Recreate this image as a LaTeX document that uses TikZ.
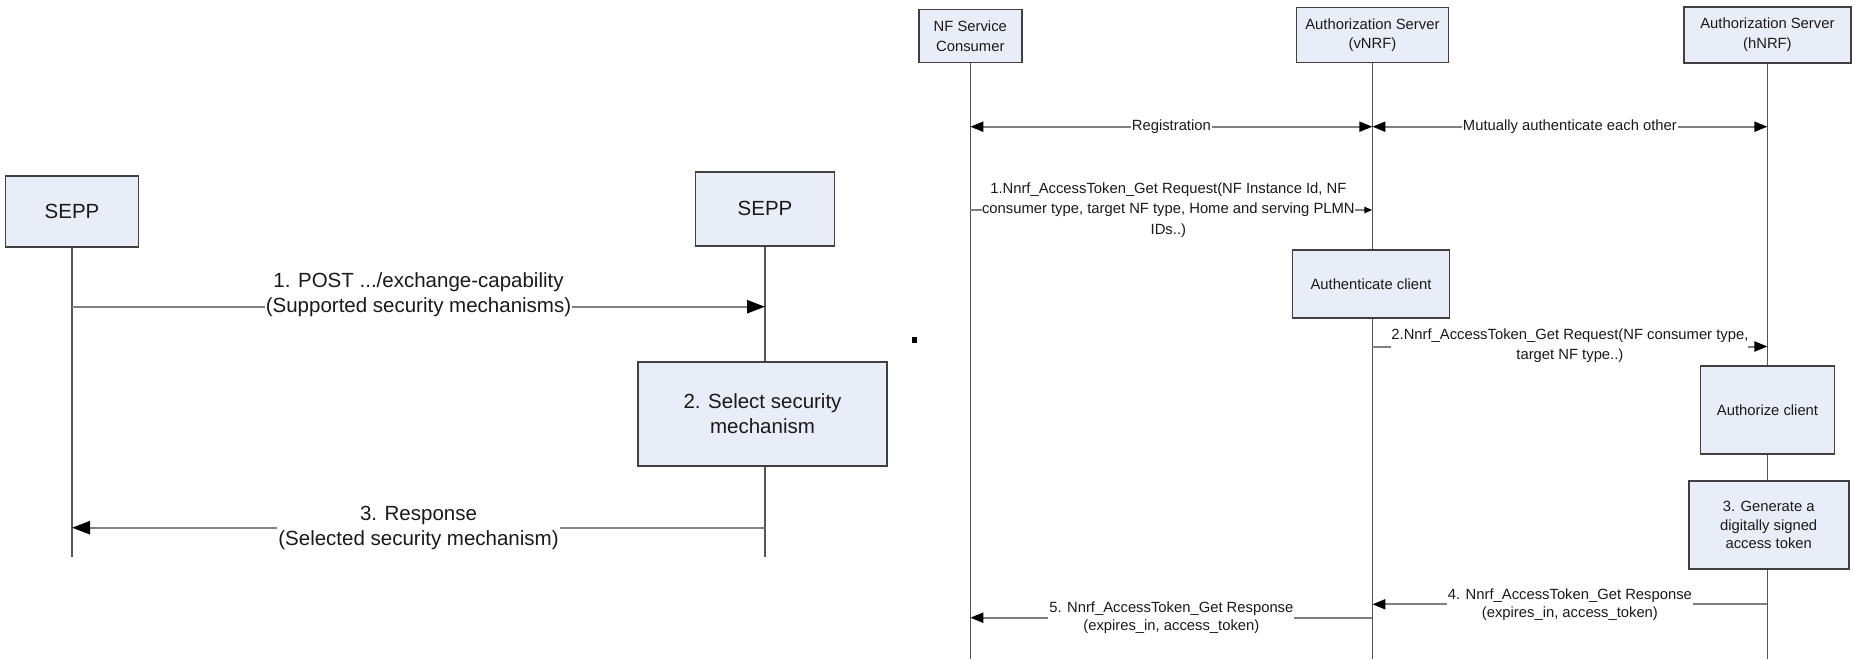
\documentclass[tikz,border=0pt]{standalone}
\usepackage{fontspec}
\setmainfont{Liberation Sans}
\usetikzlibrary{arrows.meta}
\definecolor{boxfill}{HTML}{E8EDF7}
\definecolor{boxline}{HTML}{404040}
\definecolor{msgline}{HTML}{808080}
\definecolor{lifecol}{HTML}{555555}
\definecolor{txt}{HTML}{1A1A1A}
\begin{document}
\begin{tikzpicture}[x=1pt,y=-1pt,
  big/.style={font=\fontsize{20.5}{25}\selectfont},
  small/.style={font=\fontsize{14.8}{19.5}\selectfont},
  actor/.style={draw=boxline, fill=boxfill, line width=1.8pt, inner sep=0pt,
    align=center, text=txt},
  life/.style={draw=lifecol, line width=1.4pt},
  bigtip/.tip={Triangle[length=18pt,width=13pt,color=black]},
  smalltip/.tip={Triangle[length=13pt,width=10pt,color=black]},
  tinytip/.tip={Triangle[length=8pt,width=6pt,color=black]},
  msgbig/.style={draw=msgline, line width=2.4pt},
  msgsmall/.style={draw=msgline, line width=2pt},
  lab/.style={fill=white, inner sep=1pt, align=center, text=txt}]

% canvas
\path[use as bounding box, fill=white] (0,0) rectangle (1855,659);

% ---------- SEPP capability exchange ----------
\node[actor, big, minimum width=133pt, minimum height=71pt] (sA) at (72,211.5) {SEPP};
\node[actor, big, minimum width=139pt, minimum height=74pt] (sB) at (765,208.7) {SEPP};
\coordinate (endL) at (0,557);
\draw[life] (sA.south) -- (sA |- endL);
\draw[life] (sB.south) -- (sB |- endL);

\node[actor, big, minimum width=249pt, minimum height=104pt] (sel) at (762.5,414)
  {2. Select security\\mechanism};

\coordinate (yA1) at (0,306.7);
\coordinate (yA3) at (0,527.7);
\draw[msgbig, -bigtip] (sA |- yA1) -- node[lab, big, yshift=12.5pt]
  {1. POST .../exchange-capability\\(Supported security mechanisms)} (sB |- yA1);
\draw[msgbig, -bigtip] (sB |- yA3) -- node[lab, big]
  {3. Response\\(Selected security mechanism)} (sA |- yA3);

% stray mark
\fill[black] (912,337) rectangle (917,343);

% ---------- Access token request ----------
\node[actor, small, minimum width=103pt, minimum height=53pt] (nfc) at (970.3,36)
  {NF Service\\Consumer};
\node[actor, small, minimum width=152pt, minimum height=55pt] (vnrf) at (1372.4,35)
  {Authorization Server\\(vNRF)};
\node[actor, small, minimum width=167pt, minimum height=56pt] (hnrf) at (1767.4,34.7)
  {Authorization Server\\(hNRF)};
\coordinate (endR) at (0,659);
\draw[life] (nfc.south) -- (nfc |- endR);
\draw[life] (vnrf.south) -- (vnrf |- endR);
\draw[life] (hnrf.south) -- (hnrf |- endR);

\node[actor, small, minimum width=157pt, minimum height=68pt] (authc) at (1371,284)
  {Authenticate client};
\node[actor, small, minimum width=134pt, minimum height=88pt] (authz) at (1767.5,410)
  {Authorize client};
\node[actor, small, minimum width=160pt, minimum height=88pt, font=\fontsize{14.8}{18.5}\selectfont]
  (gen) at (1768.7,525) {3. Generate a\\digitally signed\\access token};

\coordinate (yR0) at (0,126.7);
\coordinate (yR1) at (0,210);
\coordinate (yR2) at (0,346.5);
\coordinate (yR4) at (0,604.3);
\coordinate (yR5) at (0,617.7);

\draw[msgsmall, smalltip-smalltip] (nfc |- yR0) -- node[lab, small] {Registration} (vnrf |- yR0);
\draw[msgsmall, smalltip-smalltip] (vnrf |- yR0) -- node[lab, small] {Mutually authenticate each other} (hnrf |- yR0);

\draw[msgsmall, -tinytip] (nfc |- yR1) -- node[lab, small, inner sep=0pt,
  font=\fontsize{14.8}{20.5}\selectfont, xshift=-3pt]
  {1.Nnrf\_AccessToken\_Get Request(NF Instance Id, NF\\consumer type, target NF type, Home and serving PLMN\\IDs..)}
  (vnrf |- yR1);
\draw[msgsmall, -smalltip] (vnrf |- yR2) -- node[lab, small, inner sep=0pt, yshift=1pt]
  {2.Nnrf\_AccessToken\_Get Request(NF consumer type,\\target NF type..)} (hnrf |- yR2);
\draw[msgsmall, -smalltip] (hnrf |- yR4) -- node[lab, small, font=\fontsize{14.8}{18}\selectfont]
  {4. Nnrf\_AccessToken\_Get Response\\(expires\_in, access\_token)} (vnrf |- yR4);
\draw[msgsmall, -smalltip] (vnrf |- yR5) -- node[lab, small, font=\fontsize{14.8}{18}\selectfont]
  {5. Nnrf\_AccessToken\_Get Response\\(expires\_in, access\_token)} (nfc |- yR5);
\end{tikzpicture}
\end{document}
